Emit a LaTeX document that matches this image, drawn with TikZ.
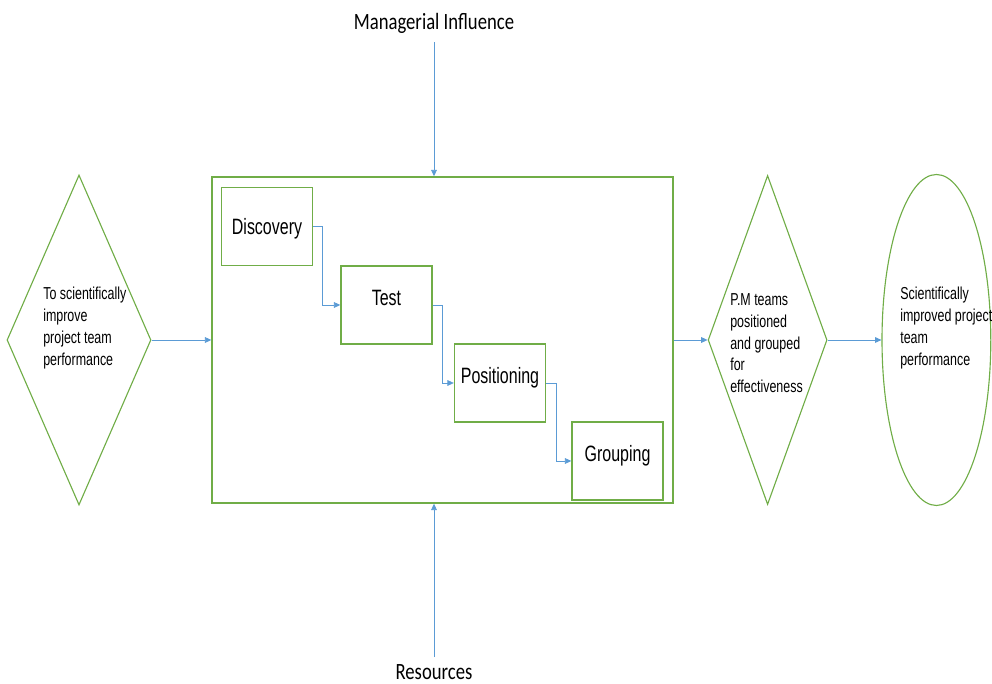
\documentclass[tikz,border=0pt]{standalone}
\usepackage{fontspec}
\setmainfont[FakeStretch=0.72]{Liberation Sans}
\newfontfamily\callout[FakeStretch=0.8]{Carlito}
\usetikzlibrary{arrows.meta,shapes.geometric}
\definecolor{leaf}{HTML}{70AD47}
\definecolor{sky}{HTML}{5B9BD5}
\tikzset{
  stage/.style={draw=leaf, line width=1pt, minimum width=2.275cm, minimum height=1.95cm, inner sep=0pt, text height=0.39cm, text depth=0.35cm, font=\fontsize{15.8}{18}\selectfont},
  flow/.style={draw=sky, line width=0.5pt, -{Triangle[length=4.5pt,width=4pt]}},
  note/.style={align=left, inner sep=0pt, anchor=north west, font=\fontsize{12.3}{15.6}\selectfont},
  influence/.style={font={\callout\fontsize{16.6}{20}\selectfont}, inner sep=5.5pt, anchor=base},
}

\begin{document}
\begin{tikzpicture}
            \useasboundingbox (0,0) rectangle (24.8,17.1);
            \node[diamond, draw=leaf, line width=0.8pt, minimum width=3.6cm, minimum height=8.25cm, inner sep=0pt] (aim) at (1.975,8.6) {};
            \node[draw=leaf, line width=1pt, minimum width=11.525cm, minimum height=8.15cm] (process) at (11.0625,8.6) {};
            \node[diamond, draw=leaf, line width=0.8pt, minimum width=2.975cm, minimum height=8.225cm, inner sep=0pt] (outcome) at (19.19,8.6) {};
            \node[ellipse, draw=leaf, line width=0.8pt, minimum width=2.72cm, minimum height=8.275cm, inner sep=0pt] (result) at (23.41,8.6) {};

            \node[note] (aimtext) at (1.075,9.925) {To scientifically\\improve\\project team\\performance};
            \node[note] (outcometext) at (18.25,9.775) {P.M teams\\positioned\\and grouped\\for\\effectiveness};
            \node[note] (resulttext) at (22.5,9.925) {Scientifically\\improved project\\team\\performance};

            \node[stage, text depth=0pt] (disc) at (6.675,11.4375) {Discovery};
            \node[stage] (test) at (9.6625,9.475) {Test};
            \node[stage] (pos) at (12.5,7.525) {Positioning};
            \node[stage] (grp) at (15.4375,5.575) {Grouping};

            \node[influence] (mgr) at (10.85,16.35) {Managerial Influence};
            \node[influence] (res) at (10.85,0.1) {Resources};

            \draw[flow] (mgr.south) -- (mgr.south |- process.north);
            \draw[flow] (res.north) -- (res.north |- process.south);
            \draw[flow] (aim.east) -- (process.west);
            \draw[flow] (process.east) -- (outcome.west);
            \draw[flow] (outcome.east) -- (result.west);

            \draw[flow] (disc.east) -- ++(0.225,0) |- (test.west);
            \draw[flow] (test.east) -- ++(0.25,0) |- (pos.west);
            \draw[flow] (pos.east) -- ++(0.25,0) |- (grp.west);
\end{tikzpicture}
\end{document}
